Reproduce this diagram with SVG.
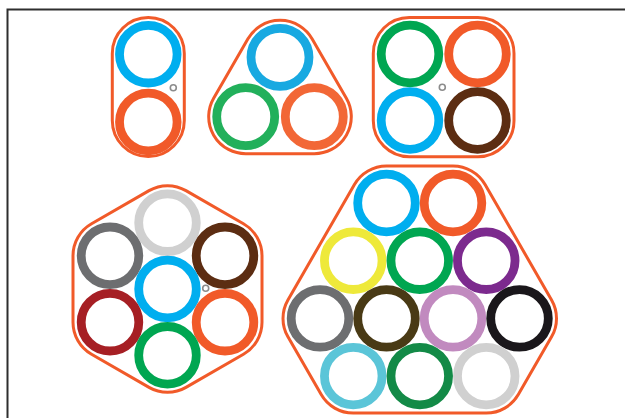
<svg xmlns="http://www.w3.org/2000/svg" width="625" height="418" viewBox="0 0 625 418">
<style>
.sheath{fill:#fff;stroke:#f15a29;stroke-width:3}
.ring{fill:none;stroke-width:8.8}
.tiny{fill:none;stroke:#8c8c8c;stroke-width:1.6}
</style>
<rect width="625" height="418" fill="#fff"/>
<rect id="frame" x="7.5" y="9.5" width="700" height="500" fill="none" stroke="#2e2e2e" stroke-width="2"/>
<g id="cable2">
<rect class="sheath" x="112.3" y="17.5" width="72" height="139" rx="36"/>
<circle class="ring" cx="148.3" cy="54.2" r="28.8" stroke="#00aeef"/>
<circle class="ring" cx="148.3" cy="122" r="28.8" stroke="#f15a29" stroke-width="9.8"/>
<circle class="tiny" cx="173.3" cy="87.7" r="3"/>
</g>
<g id="cable3">
<path class="sheath" d="M247.96,38.8 A37,37 0 0 1 312.04,38.8 L346.34,98.2 A37,37 0 0 1 314.3,153.7 L245.7,153.7 A37,37 0 0 1 213.66,98.2 Z"/>
<circle class="ring" cx="280" cy="57.3" r="29" stroke="#18a9e1"/>
<circle class="ring" cx="245.7" cy="116.7" r="29" stroke="#22b05b"/>
<circle class="ring" cx="314.3" cy="116.7" r="29" stroke="#f26736"/>
</g>
<g id="cable4">
<rect class="sheath" x="373.3" y="17.5" width="140.7" height="139.2" rx="36"/>
<circle class="ring" cx="410" cy="54" r="28.8" stroke="#00a651"/>
<circle class="ring" cx="477.5" cy="54" r="28.8" stroke="#f15a29" stroke-width="9.5"/>
<circle class="ring" cx="410" cy="120.5" r="28.8" stroke="#00aeef"/>
<circle class="ring" cx="477.5" cy="120.5" r="28.8" stroke="#5c2d12"/>
<circle class="tiny" cx="442.3" cy="87.3" r="3"/>
</g>
<g id="cable7">
<path class="sheath" stroke-width="2.6" d="M149.04,190.64 A37,37 0 0 1 185.96,190.64 L243.46,223.74 A37,37 0 0 1 262,255.8 L262,322.2 A37,37 0 0 1 243.46,354.26 L185.96,387.36 A37,37 0 0 1 149.04,387.36 L91.54,354.26 A37,37 0 0 1 73,322.2 L73,255.8 A37,37 0 0 1 91.54,223.74 Z"/>
<circle class="ring" cx="167.5" cy="222.7" r="28.8" stroke="#d0d0d0"/>
<circle class="ring" cx="110" cy="255.8" r="28.8" stroke="#6d6e70"/>
<circle class="ring" cx="225" cy="255.8" r="28.8" stroke="#5c2d12"/>
<circle class="ring" cx="167.5" cy="289" r="28.8" stroke="#00aeef"/>
<circle class="ring" cx="110" cy="322.2" r="28.8" stroke="#a61f24"/>
<circle class="ring" cx="225" cy="322.2" r="28.8" stroke="#f15a29" stroke-width="9.5"/>
<circle class="ring" cx="167.5" cy="355.3" r="28.8" stroke="#00a651"/>
<circle class="tiny" cx="205.7" cy="288.3" r="3"/>
</g>
<g id="cable12">
<path class="sheath" d="M386.5,166 L453,166 A37,37 0 0 1 485.06,184.53 L551.56,299.93 A37,37 0 0 1 551.56,336.87 L518.31,394.57 A37,37 0 0 1 486.25,413.1 L353.25,413.1 A37,37 0 0 1 321.19,394.57 L287.94,336.87 A37,37 0 0 1 287.94,299.93 L354.44,184.53 A37,37 0 0 1 386.5,166 Z"/>
<circle class="ring" cx="386.5" cy="203" r="28.8" stroke="#00aeef"/>
<circle class="ring" cx="453" cy="203" r="28.8" stroke="#f15a29" stroke-width="9.5"/>
<circle class="ring" cx="353.25" cy="260.7" r="28.8" stroke="#eee93a"/>
<circle class="ring" cx="419.75" cy="260.7" r="28.8" stroke="#00a651"/>
<circle class="ring" cx="486.25" cy="260.7" r="28.8" stroke="#7c2a8e"/>
<circle class="ring" cx="320" cy="318.4" r="28.8" stroke="#6d6e70"/>
<circle class="ring" cx="386.5" cy="318.4" r="28.8" stroke="#493a15"/>
<circle class="ring" cx="453" cy="318.4" r="28.8" stroke="#c18abf"/>
<circle class="ring" cx="519.5" cy="318.4" r="28.8" stroke="#1a171b"/>
<circle class="ring" cx="353.25" cy="376.1" r="28.8" stroke="#5bc5d8"/>
<circle class="ring" cx="419.75" cy="376.1" r="28.8" stroke="#138a47"/>
<circle class="ring" cx="486.25" cy="376.1" r="28.8" stroke="#d0d0d0"/>
</g>
</svg>
